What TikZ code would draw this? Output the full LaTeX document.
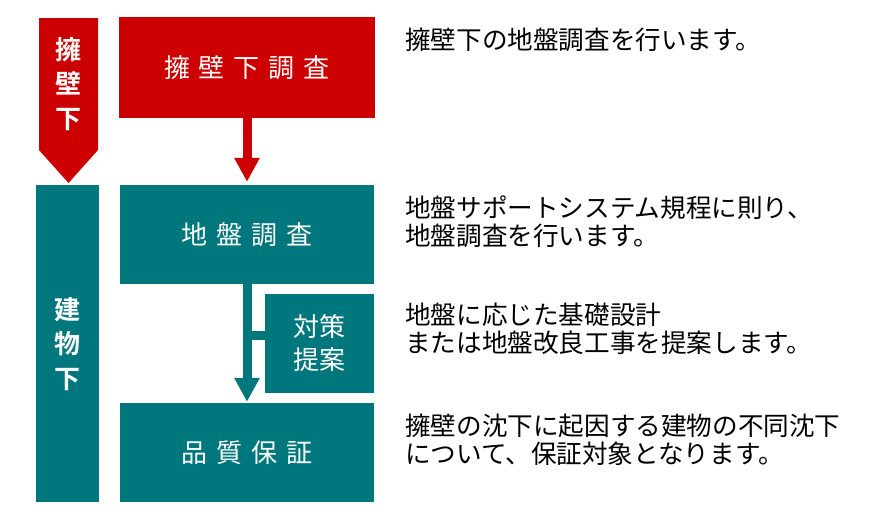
\documentclass[tikz,border=0pt]{standalone}
\usepackage{fontspec}
\setmainfont{Noto Sans CJK JP}[BoldFont={Noto Sans CJK JP Bold}]
\usetikzlibrary{arrows.meta}
\definecolor{wallred}{RGB}{204,0,0}
\definecolor{teal}{RGB}{0,118,125}
\newcommand{\gp}{\hspace{9pt}}
\begin{document}
\begin{tikzpicture}[x=1pt,y=-1pt,
  box/.style={draw=none,inner sep=0pt,text=white,font=\fontsize{26}{28}\selectfont},
  sidelabel/.style={text=white,font=\fontsize{26}{34.5}\selectfont\bfseries,align=center,inner sep=0pt},
  desc/.style={anchor=west,align=left,inner sep=0pt,font=\fontsize{25.6}{27.5}\selectfont},
  flow/.style={line width=9pt,-{Triangle[width=24pt,length=24pt]}},
  branch/.style={line width=9pt,draw=teal}]
\useasboundingbox (0,0) rectangle (884,520);
% left side labels
\fill[wallred] (39,18) -- (98,18) -- (98,150) -- (68.5,183) -- (39,150) -- cycle;
\node[sidelabel] (lw) at (68.5,84) {擁\\壁\\下};
\node[fill=teal,minimum width=63pt,minimum height=317pt,inner sep=0pt] (lb) at (67.5,343.5) {};
\node[sidelabel] (lbt) at (67.5,344) {建\\物\\下};
% boxes
\node[box,fill=wallred,minimum width=256pt,minimum height=101pt] (r) at (247,67.5) {擁\gp 壁\gp 下\gp 調\gp 査};
\node[box,fill=teal,minimum width=254pt,minimum height=99pt] (t1) at (247,234.5) {地\gp 盤\gp 調\gp 査};
\node[box,fill=teal,minimum width=109pt,minimum height=99pt,align=center,font=\fontsize{26}{33}\selectfont] (ts) at (319.5,343.5) {対策\\提案};
\node[box,fill=teal,minimum width=254pt,minimum height=99pt] (q) at (247,452.5) {品\gp 質\gp 保\gp 証};
% connectors
\draw[flow,wallred] (r.south) -- ([yshift=3pt]t1.north);
\draw[flow,teal] (t1.south) -- ([yshift=1pt]q.north);
\coordinate (j) at (247,335.5);
\draw[branch] (j) -- (ts.west |- j);
% descriptions
\node[desc] (d1) at (405,40) {擁壁下の地盤調査を行います。};
\node[desc] (d2) at (405,221.5) {地盤サポートシステム規程に則り、\\地盤調査を行います。};
\node[desc] (d3) at (405,329) {地盤に応じた基礎設計\\または地盤改良工事を提案します。};
\node[desc] (d4) at (405,440) {擁壁の沈下に起因する建物の不同沈下\\について、保証対象となります。};
\end{tikzpicture}
\end{document}
